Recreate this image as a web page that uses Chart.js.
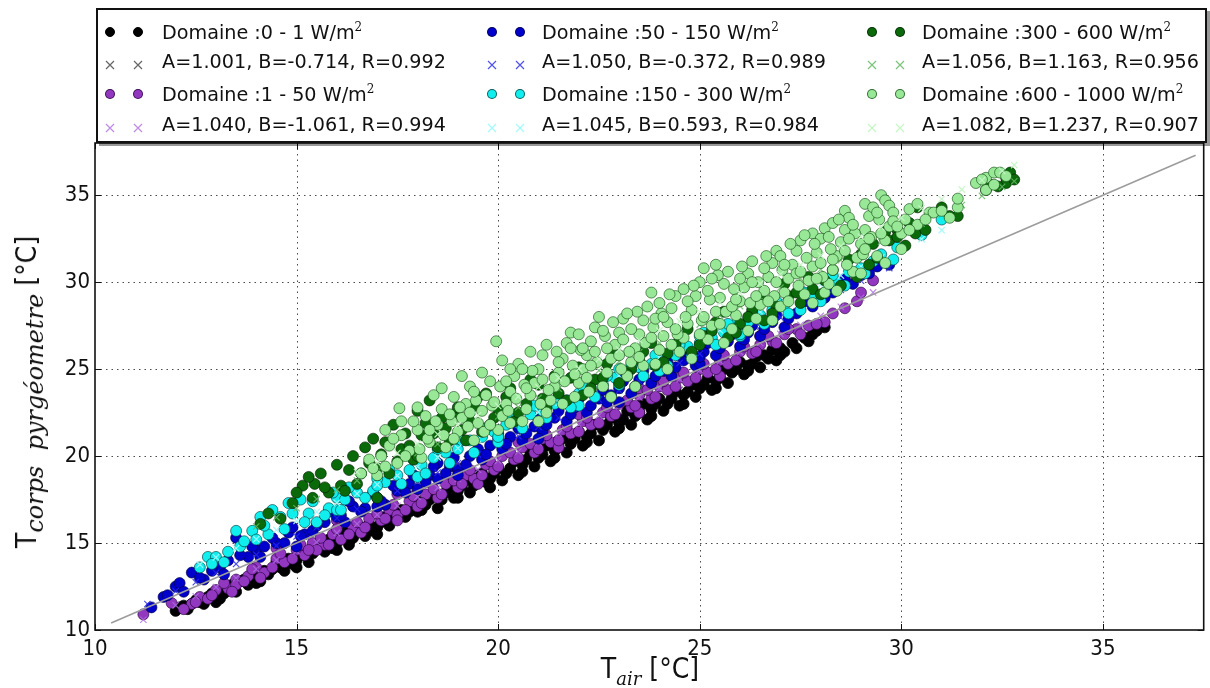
<!DOCTYPE html>
<html>
<head>
<meta charset="utf-8">
<title>T corps vs T air</title>
<script src="https://cdn.jsdelivr.net/npm/chart.js@4.4.1/dist/chart.umd.min.js"></script>
<style>
  html, body { margin:0; padding:0; background:#fff; }
  #wrap { position:relative; width:1210px; height:688px; overflow:hidden; background:#fff; }
  #c { position:absolute; left:0; top:0; }
  #legendBox { position:absolute; left:96px; top:8px; width:1111px; height:135px; box-sizing:border-box; border:2px solid #111; box-shadow:3px 3px 0 rgba(0,0,0,0.4); background:#fff; }
  .lgText { position:absolute; font-family:"DejaVu Sans", sans-serif; font-size:19.2px; line-height:24px; color:#111; white-space:nowrap; }
  .sup2 { font-family:"DejaVu Serif", serif; font-size:12px; vertical-align:8px; line-height:0; }
  .lgDot { position:absolute; width:10px; height:10px; border-radius:50%; box-sizing:border-box; border:1px solid rgba(0,0,0,0.7); }
  .lgX { position:absolute; }
  .axTitle { position:absolute; white-space:nowrap; color:#111; line-height:30px; }
  .axTitle sub { font-family:"DejaVu Serif", serif; font-style:italic; line-height:0; }
</style>
</head>
<body>
<div id="wrap">
  <canvas id="c" width="1210" height="688"></canvas>
  <div id="legendBox"></div>
  <div id="xt" class="axTitle">T<sub>air</sub> [°C]</div>
  <div id="yt" class="axTitle">T<sub>corps&nbsp;&nbsp;pyrgéometre</sub> [°C]</div>
</div>
<script>
// ---------------- DATA ----------------
const domains = ['0 - 1', '1 - 50', '50 - 150', '150 - 300', '300 - 600', '600 - 1000'];
const fitA = [1.001, 1.040, 1.050, 1.045, 1.056, 1.082];
const fitB = [-0.714, -1.061, -0.372, 0.593, 1.163, 1.237];
const fitR = [0.992, 0.994, 0.989, 0.984, 0.956, 0.907];
const xTicks = [10, 15, 20, 25, 30, 35];
const yTicks = [10, 15, 20, 25, 30, 35];
const xRange = [10, 37.5];
const yRange = [10, 38];
const diagonal = [[10.4, 10.4], [37.3, 37.3]];

const blackPts = [[12.0,11.1],[12.2,11.4],[12.4,11.5],[12.6,11.6],[12.8,11.9],[13.0,12.0],[13.2,12.1],[13.4,12.6],[13.6,12.8],[13.8,12.6],[14.0,13.0],[14.2,13.4],[14.4,13.5],[14.6,13.6],[14.8,14.1],[15.0,14.0],[15.2,14.5],[15.4,14.4],[15.6,14.8],[15.8,15.2],[16.0,15.0],[16.2,15.6],[16.4,15.3],[16.6,15.9],[16.8,16.1],[17.0,15.9],[17.2,16.5],[17.4,16.4],[17.6,16.9],[17.8,16.8],[18.0,17.4],[18.2,17.2],[18.4,17.8],[18.6,17.5],[18.8,18.2],[19.0,18.0],[19.2,18.6],[19.4,18.3],[19.6,19.0],[19.8,18.7],[20.0,19.3],[20.2,19.0],[20.4,19.7],[20.6,19.5],[20.8,20.2],[21.0,19.9],[21.2,20.6],[21.4,20.3],[21.6,21.0],[21.8,20.7],[22.0,21.4],[22.2,21.1],[22.4,21.8],[22.6,21.5],[22.8,22.2],[23.0,21.9],[23.2,22.6],[23.4,22.3],[23.6,23.0],[23.8,22.7],[24.0,23.3],[24.2,23.0],[24.4,23.7],[24.6,23.5],[24.8,24.1],[25.0,23.9],[25.2,24.5],[25.4,24.3],[25.6,25.0],[25.8,24.8],[26.0,25.4],[26.2,25.2],[26.4,25.7],[26.6,25.8],[26.8,26.1],[27.0,26.2],[27.3,26.5],[27.6,26.8],[27.9,27.2],[28.1,27.4],[13.0,11.6],[14.0,12.7],[15.0,13.6],[16.0,14.6],[17.0,15.5],[18.0,16.8],[19.0,17.6],[19.8,18.2],[20.6,19.1],[21.4,19.9],[22.2,20.8],[23.0,21.6],[23.8,22.3],[24.6,23.0],[25.4,23.9],[26.2,24.9],[27.0,25.8],[15.5,14.9],[17.5,16.8],[19.5,18.9],[21.5,20.9],[23.5,22.9],[25.5,24.9],
[12.1,11.3],[12.3,11.2],[12.5,11.7],[12.7,11.5],[12.9,12.1],[13.1,11.8],[13.3,12.4],[13.5,12.2],[13.7,12.9],[13.9,13.1],[14.1,12.8],[14.3,13.2],[14.5,13.9],[14.7,13.4],[14.9,13.8],[15.1,14.3],[15.3,13.9],[15.7,14.5],[15.9,14.7],[16.1,15.3],[16.3,14.9],[16.5,15.6],[16.7,15.4],[16.9,15.7],[17.1,16.2],[17.3,16.0],[17.7,16.5],[17.9,17.1],[18.1,16.9],[18.3,17.5],[18.5,17.0],[18.7,17.9],[18.9,17.6],[19.1,18.3],[19.3,17.9],[19.7,18.5],[19.9,19.0],[20.1,18.6],[20.3,19.3],[20.5,18.9],[20.7,19.8],[20.9,19.4],[21.1,20.1],[21.3,19.7],[21.5,20.5],[21.7,20.2],[21.9,21.0],[22.1,20.6],[22.3,21.3],[22.5,20.9],[22.7,21.8],[22.9,21.4],[23.1,22.1],[23.3,21.8],[23.5,22.5],[23.7,22.1],[23.9,23.0],[24.1,22.6],[24.3,23.3],[24.5,22.9],[24.7,23.7],[24.9,23.4],[25.1,24.1],[25.3,23.8],[25.5,24.5],[25.7,24.2],[25.9,25.0],[26.1,24.7],[26.3,25.3],[26.5,25.1],[26.7,25.6],[26.9,25.5],[27.1,26.0],[27.4,26.2],[27.7,26.6],[27.8,27.0]];

const purplePts = [[11.2,10.9],[11.9,11.55],[12.4,11.5],[12.6,11.9],[12.8,11.8],[13.0,12.3],[13.3,12.4],[13.5,12.9],[13.8,13.1],[14.0,13.6],[14.2,13.3],[14.5,14.1],[14.7,13.9],[15.0,14.6],[15.2,14.3],[15.4,15.0],[15.7,14.9],[15.9,15.5],[16.1,15.2],[16.4,15.9],[16.6,15.6],[16.8,16.4],[17.1,16.3],[17.3,16.9],[17.5,16.6],[17.8,17.4],[18.0,17.1],[18.2,17.8],[18.5,17.6],[18.7,18.4],[19.0,18.2],[19.2,18.9],[19.4,18.7],[19.7,19.5],[19.9,19.2],[20.1,20.0],[20.4,19.8],[20.6,20.5],[20.9,20.2],[21.1,21.0],[21.3,20.8],[21.6,21.5],[21.8,21.3],[22.1,22.0],[22.3,21.8],[22.6,22.5],[22.8,22.3],[23.0,23.0],[23.3,22.8],[23.5,23.5],[23.8,23.3],[24.0,24.0],[24.2,23.8],[24.5,24.5],[24.7,24.3],[25.0,25.0],[25.2,24.8],[25.5,25.5],[25.7,25.3],[26.0,26.0],[26.3,25.9],[26.5,26.4],[26.8,26.6],[27.1,27.0],[27.4,27.3],[27.7,27.5],[28.1,27.7],[28.3,28.2],[28.6,28.5],[28.9,28.9],[29.0,29.4],[29.3,30.1],[14.5,14.7],[16.0,16.3],[17.5,17.8],[19.0,19.3],[20.5,20.8],[22.0,22.4],[23.5,23.9],[25.0,25.4],[26.5,26.9],[13.5,12.6],[15.5,14.6],[17.5,16.3],[19.5,18.4],[21.5,20.5],[23.5,22.5],[25.5,24.6],
[12.2,11.2],[12.5,11.6],[12.9,12.0],[13.2,12.7],[13.4,12.2],[13.7,12.8],[13.9,13.5],[14.1,13.0],[14.4,13.6],[14.6,14.4],[14.9,14.1],[15.1,14.9],[15.3,14.6],[15.6,15.3],[15.8,14.9],[16.0,15.8],[16.3,15.5],[16.5,16.2],[16.7,15.9],[17.0,16.7],[17.2,16.4],[17.4,17.2],[17.7,16.9],[17.9,17.7],[18.1,17.3],[18.4,18.1],[18.6,17.8],[18.9,18.6],[19.1,18.4],[19.3,19.2],[19.6,18.9],[19.8,19.7],[20.0,19.4],[20.3,20.2],[20.5,19.9],[20.8,20.7],[21.0,20.4],[21.2,21.2],[21.5,20.9],[21.7,21.7],[22.0,21.4],[22.2,22.2],[22.5,21.9],[22.7,22.8],[22.9,22.4],[23.2,23.2],[23.4,22.9],[23.7,23.8],[23.9,23.4],[24.1,24.3],[24.4,24.0],[24.6,24.8],[24.9,24.5],[25.1,25.3],[25.4,25.0],[25.6,25.8],[25.9,25.5],[26.1,26.3],[26.4,26.0],[26.7,26.9],[26.9,26.5],[27.2,27.3],[27.5,27.0],[27.9,27.6]];

const bluePts = [[11.4,11.3],[11.7,11.9],[12.0,12.5],[12.1,12.7],[12.4,13.3],[12.7,12.9],[13.1,13.6],[13.3,14.0],[13.5,15.3],[13.8,14.2],[14.0,14.6],[14.2,14.8],[14.5,15.0],[14.8,15.6],[15.0,14.8],[15.2,15.5],[15.4,15.7],[15.7,16.2],[16.0,16.5],[16.2,16.2],[16.4,17.1],[16.7,17.0],[17.0,17.6],[17.2,17.2],[17.5,18.0],[17.8,18.4],[18.0,18.1],[18.3,18.9],[18.5,18.7],[18.8,19.4],[19.0,19.2],[19.3,20.0],[19.6,19.8],[19.8,20.6],[20.1,20.4],[20.3,21.1],[20.6,20.9],[20.9,21.7],[21.1,21.4],[21.4,22.2],[21.7,22.0],[21.9,22.8],[22.2,22.5],[22.5,23.3],[22.7,23.1],[23.0,23.9],[23.3,23.6],[23.5,24.4],[23.8,24.2],[24.1,24.9],[24.3,24.6],[24.6,25.5],[24.9,25.2],[25.1,26.0],[25.4,25.8],[25.7,26.6],[26.0,26.3],[26.2,27.1],[26.5,26.9],[26.8,27.7],[27.1,27.4],[27.4,28.2],[27.5,29.5],[27.8,28.6],[28.1,29.1],[28.4,29.7],[28.8,29.9],[29.2,30.5],[29.7,31.0],[18.5,19.6],[20.0,21.3],[21.5,22.9],[23.0,24.4],[24.5,25.9],[26.0,27.4],[17.0,17.1],[19.0,18.9],[21.0,21.0],[23.0,23.1],[25.0,25.3],
[11.8,12.0],[12.2,12.2],[12.6,13.0],[12.9,13.4],[13.2,13.2],[13.6,14.3],[13.9,14.8],[14.1,14.2],[14.4,15.3],[14.7,15.0],[14.9,15.9],[15.1,15.4],[15.5,16.0],[15.8,16.8],[16.1,16.6],[16.3,17.4],[16.6,16.8],[16.9,17.9],[17.1,17.4],[17.4,18.3],[17.7,17.9],[17.9,18.9],[18.2,18.5],[18.4,19.4],[18.7,19.0],[18.9,19.9],[19.2,19.5],[19.5,20.4],[19.7,20.1],[20.0,21.0],[20.2,20.7],[20.5,21.6],[20.7,21.3],[21.0,22.1],[21.2,21.8],[21.5,22.6],[21.8,22.4],[22.0,23.3],[22.3,22.9],[22.6,23.8],[22.8,23.5],[23.1,24.3],[23.4,24.0],[23.6,24.9],[23.9,24.6],[24.2,25.4],[24.4,25.1],[24.7,26.0],[25.0,25.7],[25.2,26.5],[25.5,26.2],[25.8,27.0],[26.1,26.7],[26.3,27.5],[26.6,27.3],[26.9,28.1],[27.2,27.9],[27.6,28.9],[27.9,29.2],[28.3,29.4],[28.6,30.2],[29.0,30.4],[29.4,30.9]];

const cyanPts = [[12.6,13.6],[12.8,14.2],[13.0,14.2],[13.2,13.9],[13.5,15.7],[13.6,14.8],[13.9,15.7],[14.1,16.5],[14.3,15.5],[14.6,16.5],[14.8,17.3],[15.1,17.5],[15.3,16.7],[15.5,16.2],[15.8,17.0],[16.0,17.6],[16.2,17.5],[16.5,17.9],[16.9,18.0],[17.2,18.5],[17.5,18.9],[17.8,19.2],[18.1,19.5],[18.4,19.9],[18.7,20.2],[19.0,20.4],[19.3,20.9],[19.6,21.1],[19.9,21.4],[20.2,21.8],[20.5,21.9],[20.8,22.4],[21.1,22.6],[21.4,23.0],[21.7,23.2],[22.0,23.6],[22.3,23.7],[22.6,24.1],[22.9,24.5],[23.2,24.6],[23.5,25.1],[23.8,25.3],[24.1,25.6],[24.4,25.8],[24.7,26.3],[25.0,26.5],[25.3,26.8],[25.6,27.1],[25.9,27.6],[26.2,27.7],[26.5,28.1],[26.8,28.4],[27.1,28.7],[27.5,28.4],[27.8,29.3],[28.1,29.4],[28.4,30.0],[28.7,30.6],[29.0,30.8],[29.3,31.2],[29.8,31.3],[29.9,32.0],[30.5,32.7],[31.0,33.6],[16.0,16.9],[18.0,18.8],[20.0,20.8],[22.0,22.9],[24.0,24.9],[26.0,26.9],[17.0,18.7],[19.0,21.0],[21.0,22.9],[23.0,25.0],[25.0,26.9],
[12.9,13.8],[13.3,14.5],[13.7,15.1],[14.0,15.2],[14.2,16.0],[14.4,16.9],[14.7,15.8],[14.9,16.7],[15.2,16.2],[15.4,17.4],[15.7,16.6],[15.9,17.9],[16.1,16.9],[16.3,18.2],[16.7,17.6],[17.0,18.3],[17.3,19.2],[17.6,18.4],[17.9,19.8],[18.2,19.0],[18.5,20.4],[18.8,19.6],[19.1,20.9],[19.4,20.2],[19.7,21.6],[20.0,21.1],[20.3,22.3],[20.6,21.6],[20.9,22.9],[21.2,22.2],[21.5,23.4],[21.8,22.8],[22.1,24.0],[22.4,23.4],[22.7,24.6],[23.0,24.1],[23.3,25.2],[23.6,24.6],[23.9,25.8],[24.2,25.2],[24.5,26.4],[24.8,25.8],[25.1,27.1],[25.4,26.4],[25.7,27.6],[26.0,27.0],[26.3,28.2],[26.6,27.6],[26.9,28.9],[27.2,28.2],[27.6,29.4],[28.0,28.9],[28.3,30.4],[28.6,29.8],[29.1,30.5],[29.5,31.6]];

const dgreenPts = [[14.1,16.1],[14.3,16.7],[14.6,16.4],[14.9,17.3],[15.15,18.3],[15.4,17.6],[15.45,18.4],[15.6,19.0],[15.8,17.9],[16.1,18.3],[16.3,19.2],[16.5,18.4],[16.8,19.6],[16.9,21.0],[17.0,17.6],[17.1,20.1],[17.3,19.0],[17.4,21.8],[17.6,20.4],[17.9,19.8],[18.0,22.6],[18.1,21.2],[18.3,23.2],[18.5,20.5],[18.8,20.9],[18.9,22.4],[19.1,21.5],[19.4,22.9],[19.6,21.4],[19.7,23.6],[19.9,22.2],[20.2,23.4],[20.4,22.0],[20.7,23.0],[21.0,24.1],[21.2,22.8],[21.5,23.6],[21.8,24.5],[22.1,23.5],[22.4,24.4],[22.7,25.3],[23.0,24.2],[23.3,25.0],[23.6,26.0],[23.9,25.2],[24.2,25.9],[24.5,26.8],[24.8,26.0],[25.1,26.9],[25.4,27.7],[25.7,26.8],[26.0,27.6],[26.3,28.4],[26.6,27.8],[26.9,28.6],[27.2,29.2],[27.5,28.8],[27.8,29.6],[28.1,30.1],[28.5,29.8],[28.9,30.3],[29.2,31.0],[29.4,31.4],[29.7,32.4],[29.9,33.0],[30.1,32.1],[30.35,32.8],[30.4,34.3],[30.5,33.3],[31.0,34.3],[31.2,33.8],[31.4,33.8],[32.1,35.3],[32.6,36.0],[32.6,35.7],[32.7,36.3],[32.8,35.9],
[15.0,17.9],[15.3,18.8],[15.7,18.2],[16.0,19.5],[16.2,18.0],[16.4,20.0],[16.6,19.0],[16.7,20.5],[17.0,19.3],[17.2,20.8],[17.5,19.7],[17.7,21.3],[17.8,20.6],[18.0,20.0],[18.2,21.9],[18.4,21.3],[18.6,22.2],[18.7,21.6],[19.0,22.8],[19.2,20.9],[19.3,22.0],[19.5,23.4],[19.8,21.8],[20.0,22.7],[20.3,23.9],[20.5,22.5],[20.8,24.4],[21.1,23.3],[21.4,24.6],[21.7,23.2],[22.0,25.1],[22.3,23.9],[22.6,24.5],[22.9,25.8],[23.2,24.7],[23.5,25.5],[23.8,26.5],[24.1,25.4],[24.4,26.4],[24.7,27.3],[25.0,26.4],[25.3,27.2],[25.6,28.3],[25.9,27.1],[26.2,28.0],[26.5,29.1],[26.8,28.2],[27.1,29.9],[27.4,29.4],[27.7,30.3],[28.0,29.3],[28.3,30.7],[28.7,31.3],[29.0,31.6],[29.3,32.2],[29.6,32.9],[29.9,32.6],[30.2,33.4],[30.6,33.0],[32.2,35.6],[32.4,35.5]];

const lgreenPts = [[16.6,19.0],[16.8,19.8],[17.0,18.9],[17.1,20.0],[17.3,20.6],[17.5,19.6],[17.55,22.75],[17.6,21.2],[17.8,20.3],[18.0,21.5],[18.1,19.9],[18.2,22.3],[18.3,20.8],[18.4,23.5],[18.5,21.8],[18.6,22.7],[18.7,20.5],[18.9,23.4],[19.0,21.4],[19.1,22.2],[19.2,23.0],[19.3,24.0],[19.4,20.9],[19.5,21.9],[19.6,22.6],[19.7,23.5],[19.8,24.3],[19.95,26.6],[20.0,21.5],[20.1,22.3],[20.2,23.0],[20.3,23.7],[20.4,24.6],[20.5,25.3],[20.6,22.0],[20.7,22.7],[20.8,23.5],[20.9,24.2],[21.0,25.0],[21.1,25.8],[21.2,22.5],[21.3,23.2],[21.4,24.0],[21.5,24.8],[21.6,25.6],[21.7,26.5],[21.8,27.1],[21.9,23.4],[22.0,24.2],[22.1,25.0],[22.2,25.8],[22.3,26.6],[22.4,27.4],[22.5,28.0],[22.6,24.0],[22.7,24.8],[22.8,25.6],[22.9,26.4],[23.0,27.1],[23.1,27.9],[23.2,24.6],[23.3,25.4],[23.4,26.2],[23.5,27.0],[23.6,27.8],[23.7,28.6],[23.8,29.4],[23.9,25.3],[24.0,26.1],[24.1,26.9],[24.2,27.7],[24.3,28.5],[24.4,29.2],[24.5,26.0],[24.6,26.8],[24.7,27.6],[24.8,28.4],[24.9,29.2],[25.0,30.0],[25.1,30.8],[25.2,26.7],[25.3,27.5],[25.4,28.3],[25.5,29.1],[25.6,29.9],[25.7,30.6],[25.8,27.3],[25.9,28.1],[26.0,28.9],[26.1,29.7],[26.2,30.5],[26.3,31.2],[26.4,27.9],[26.5,28.7],[26.6,29.5],[26.7,30.3],[26.8,31.1],[26.9,31.8],[27.0,28.6],[27.1,29.4],[27.2,30.2],[27.3,31.0],[27.4,31.8],[27.5,32.4],[27.6,29.3],[27.7,30.1],[27.8,30.9],[27.8,32.8],[27.9,31.7],[28.0,32.5],[28.1,33.1],[28.1,29.4],[28.2,29.9],[28.3,30.7],[28.3,33.4],[28.4,31.5],[28.5,32.3],[28.6,33.0],[28.6,34.1],[28.7,33.7],[28.8,30.6],[28.9,31.4],[29.0,32.2],[29.1,33.0],[29.1,34.5],[29.2,33.8],[29.3,34.3],[29.5,35.0],[29.6,34.7],[29.7,34.4],[29.4,31.5],[29.6,32.4],[29.7,33.2],[29.8,34.0],[30.0,32.8],[30.1,33.6],[30.2,34.2],[30.4,33.3],[30.7,34.0],[30.8,34.0],[31.4,34.3],[31.4,34.8],[31.85,35.7],[32.1,35.3],[32.1,36.0],[32.3,36.3],[32.45,36.3],[16.9,19.3],[17.2,19.4],[17.4,21.0],[17.7,20.0],[17.9,22.0],[18.05,20.4],[18.25,21.0],[18.45,22.0],[18.65,21.2],[18.85,22.0],[19.05,22.8],[19.25,21.7],[19.45,23.2],[19.65,21.4],[19.85,22.9],[20.05,24.0],[20.25,22.6],[20.45,23.3],[20.65,24.1],[20.85,24.9],[21.05,23.0],[21.25,23.8],[21.45,26.0],[21.65,24.3],[21.85,25.2],[22.05,26.1],[22.25,23.7],[22.45,25.4],[22.65,26.9],[22.85,27.7],[23.05,25.0],[23.25,26.0],[23.45,28.3],[23.65,26.5],[23.85,27.4],[24.05,28.2],[24.25,29.3],[24.45,27.0],[24.65,28.0],[24.85,29.8],[25.05,27.8],[25.25,29.0],[25.45,30.4],[25.65,28.3],[25.85,29.6],[26.05,30.9],[26.25,28.8],[26.45,30.0],[26.65,31.5],[26.85,29.2],[27.05,30.7],[27.25,32.2],[27.45,29.8],[27.65,31.4],[27.85,32.2],[28.05,30.3],[28.25,31.9],[28.45,33.6],[28.65,31.0],[28.85,32.8],[29.05,31.6],[29.25,32.6],[29.45,33.6],
[17.2,21.5],[17.6,22.0],[18.0,22.8],[18.3,21.5],[18.6,23.9],[18.9,21.0],[19.1,24.6],[19.4,23.7],[19.6,24.8],[19.9,23.1],[20.1,25.5],[20.3,21.9],[20.6,25.0],[20.8,26.0],[21.0,22.0],[21.2,26.4],[21.4,24.5],[21.6,23.0],[21.8,26.2],[22.0,27.0],[22.2,24.5],[22.4,26.0],[22.6,27.2],[22.8,23.4],[23.0,25.8],[23.2,28.2],[23.4,24.0],[23.6,25.2],[23.8,26.8],[24.0,28.8],[24.2,25.0],[24.4,27.3],[24.6,29.6],[24.8,25.6],[25.0,27.0],[25.2,29.5],[25.4,31.0],[25.6,26.5],[25.8,28.6],[26.0,30.2],[26.2,27.2],[26.4,29.2],[26.6,30.8],[26.8,27.8],[27.0,31.5],[27.2,28.9],[27.4,30.5],[27.6,32.7],[27.8,28.8],[28.0,31.1],[28.2,32.6],[28.4,29.5],[28.6,31.8],[28.8,33.3],[29.0,30.5],[29.2,32.5],[29.4,34.0],[29.6,31.1],[29.8,33.5],[30.0,31.9],[30.2,33.0],[30.4,34.5],[30.6,33.6],[31.0,34.1],[31.2,33.7],[32.0,35.9],[32.3,35.6],[32.6,36.1],
[19.3,22.5],[19.8,21.8],[20.2,24.3],[20.7,23.9],[21.1,24.4],[21.5,25.4],[21.9,24.7],[22.3,25.2],[22.7,26.2],[23.1,26.7],[23.5,25.7],[23.9,27.9],[24.3,26.4],[24.7,28.9],[25.1,28.0],[25.5,27.6],[25.9,29.0],[26.3,30.0],[26.7,28.9],[27.1,31.0],[27.5,30.6],[27.9,30.2],[28.3,31.3],[28.7,32.5],[29.1,31.9],[29.5,32.8],[29.9,33.2],[24.1,28.0],[22.1,26.2],[20.3,25.0],[18.8,22.4],[26.9,30.0],[25.3,30.2],[23.3,27.3]];

const blackFit = [[12,11.30],[12.5,11.80],[13,12.30],[13.5,12.80],[14,13.30],[14.5,13.80],[15,14.30],[15.5,14.80],[16,15.30],[16.5,15.80],[17,16.30],[17.5,16.80],[18,17.30],[18.5,17.80],[19,18.31],[19.5,18.81],[20,19.31],[20.5,19.81],[21,20.31],[21.5,20.81],[22,21.31],[22.5,21.81],[23,22.31],[23.5,22.81],[24,23.31],[24.5,23.81],[25,24.31],[25.5,24.81],[26,25.31],[26.5,25.81],[27,26.31],[27.5,26.81],[28,27.31]];
const purpleFit = [[11.2,10.59],[12,11.42],[12.5,11.94],[13,12.46],[13.5,12.98],[14,13.50],[14.5,14.02],[15,14.54],[15.5,15.06],[16,15.58],[16.5,16.10],[17,16.62],[17.5,17.14],[18,17.66],[18.5,18.18],[19,18.70],[19.5,19.22],[20,19.74],[20.5,20.26],[21,20.78],[21.5,21.30],[22,21.82],[22.5,22.34],[23,22.86],[23.5,23.38],[24,23.90],[24.5,24.42],[25,24.94],[25.5,25.46],[26,25.98],[26.5,26.50],[27,27.02],[27.5,27.54],[28,28.06],[28.5,28.58],[29,29.10],[29.3,29.41]];
const blueFit = [[11.3,11.49],[12,12.23],[12.5,12.75],[13,13.28],[13.5,13.80],[14,14.33],[14.5,14.85],[15,15.38],[15.5,15.90],[16,16.43],[16.5,16.95],[17,17.48],[17.5,18.00],[18,18.53],[18.5,19.05],[19,19.58],[19.5,20.10],[20,20.63],[20.5,21.15],[21,21.68],[21.5,22.20],[22,22.73],[22.5,23.25],[23,23.78],[23.5,24.30],[24,24.83],[24.5,25.35],[25,25.88],[25.5,26.40],[26,26.93],[26.5,27.45],[27,27.98],[27.5,28.50],[28,29.03],[28.5,29.55],[29,30.08],[29.7,30.81]];
const cyanFit = [[12.6,13.76],[13,14.18],[13.5,14.70],[14,15.22],[14.5,15.75],[15,16.27],[15.5,16.79],[16,17.31],[16.5,17.84],[17,18.36],[17.5,18.88],[18,19.40],[18.5,19.93],[19,20.45],[19.5,20.97],[20,21.49],[20.5,22.02],[21,22.54],[21.5,23.06],[22,23.58],[22.5,24.11],[23,24.63],[23.5,25.15],[24,25.67],[24.5,26.20],[25,26.72],[25.5,27.24],[26,27.76],[26.5,28.29],[27,28.81],[27.5,29.33],[28,29.85],[28.5,30.38],[29,30.90],[29.5,31.42],[30,31.94],[30.5,32.47],[31,32.99]];
const dgreenFit = [[14,15.95],[14.5,16.48],[15,17.00],[15.5,17.53],[16,18.06],[16.5,18.59],[17,19.12],[17.5,19.64],[18,20.17],[18.5,20.70],[19,21.23],[19.5,21.76],[20,22.28],[20.5,22.81],[21,23.34],[21.5,23.87],[22,24.40],[22.5,24.92],[23,25.45],[23.5,25.98],[24,26.51],[24.5,27.04],[25,27.56],[25.5,28.09],[26,28.62],[26.5,29.15],[27,29.68],[27.5,30.20],[28,30.73],[28.5,31.26],[29,31.79],[29.5,32.32],[30,32.84],[30.5,33.37],[31,33.90],[31.5,34.43],[32,34.96],[32.5,35.48],[32.8,35.80]];
const lgreenFit = [[16.5,19.09],[17,19.63],[17.5,20.17],[18,20.71],[18.5,21.25],[19,21.79],[19.5,22.34],[20,22.88],[20.5,23.42],[21,23.96],[21.5,24.50],[22,25.04],[22.5,25.58],[23,26.12],[23.5,26.66],[24,27.21],[24.5,27.75],[25,28.29],[25.5,28.83],[26,29.37],[26.5,29.91],[27,30.45],[27.5,30.99],[28,31.53],[28.5,32.07],[29,32.61],[29.5,33.16],[30,33.70],[30.5,34.24],[31,34.78],[31.5,35.32],[32,35.86],[32.5,36.40],[32.8,36.73]];

// ---------------- STYLE ----------------
const fillColors = ['#000000', '#9238c0', '#0000cc', '#10eeee', '#0a6a0a', '#98e898'];
const edgeColors = ['#000000', 'rgba(40,0,60,0.8)', 'rgba(0,0,60,0.8)', 'rgba(0,60,60,0.8)', 'rgba(0,30,0,0.8)', 'rgba(20,80,20,0.8)'];
const crossColors = ['rgba(0,0,0,0.6)', 'rgba(175,110,225,0.8)', 'rgba(40,40,235,0.8)', 'rgba(160,250,250,0.95)', 'rgba(100,185,100,0.85)', 'rgba(195,245,195,0.95)'];

function hasFont(name) {
  const c = document.createElement('canvas').getContext('2d');
  const s = 'abcdefghijklmnopqrstuvwxyz0123456789ABCDEF';
  c.font = '32px monospace';
  const a = c.measureText(s).width;
  c.font = '32px "' + name + '", monospace';
  const b = c.measureText(s).width;
  return Math.abs(a - b) > 0.5;
}
let tickFont, tickSize, titleSize, titleScale = 1;
if (hasFont('Liberation Sans Narrow')) { tickFont = 'Liberation Sans Narrow'; tickSize = 25; titleSize = 31; }
else if (hasFont('DejaVu Sans Condensed')) { tickFont = 'DejaVu Sans Condensed'; tickSize = 22; titleSize = 28; }
else { tickFont = 'DejaVu Sans'; tickSize = 20; titleSize = 28; titleScale = 0.8; }

// ---------------- TITLES ----------------
const xt = document.getElementById('xt');
const yt = document.getElementById('yt');
[xt, yt].forEach(el => { el.style.fontFamily = '"' + tickFont + '", sans-serif'; el.style.fontSize = titleSize + 'px'; });
xt.querySelector('sub').style.cssText = 'font-size:18px;vertical-align:-7px;';
yt.querySelector('sub').style.cssText = 'font-size:24px;vertical-align:-7px;';
xt.style.left = '650px'; xt.style.top = '654px';
xt.style.transform = 'translateX(-50%) scaleX(' + titleScale + ')';
yt.style.left = '27px'; yt.style.top = '392px';
yt.style.transform = 'translate(-50%,-50%) rotate(-90deg) scaleX(' + titleScale + ')';

// ---------------- LEGEND ----------------
const wrap = document.getElementById('wrap');
const colX = [[110, 138, 162], [492, 520, 542], [872, 900, 922]];
const rowBase = [39, 68, 101, 131];
function crossSvg(color, cx, cy) {
  const d = document.createElement('div');
  d.className = 'lgX';
  d.style.left = (cx - 5) + 'px'; d.style.top = (cy - 5) + 'px';
  d.innerHTML = '<svg width="10" height="10"><path d="M1 1L9 9M9 1L1 9" stroke="' + color + '" stroke-width="1.2" fill="none"/></svg>';
  wrap.appendChild(d);
}
function dot(color, edge, cx, cy) {
  const d = document.createElement('div');
  d.className = 'lgDot';
  d.style.left = (cx - 5) + 'px'; d.style.top = (cy - 5) + 'px';
  d.style.background = color; d.style.borderColor = edge;
  wrap.appendChild(d);
}
function text(html, x, base) {
  const d = document.createElement('div');
  d.className = 'lgText';
  d.style.left = x + 'px'; d.style.top = (base - 18.5) + 'px';
  d.innerHTML = html;
  wrap.appendChild(d);
}
domains.forEach((dom, i) => {
  const col = colX[Math.floor(i / 2)];
  const r = (i % 2) * 2;
  const cy1 = rowBase[r] - 7, cy2 = rowBase[r + 1] - 7;
  dot(fillColors[i], edgeColors[i], col[0], cy1);
  dot(fillColors[i], edgeColors[i], col[1], cy1);
  text('Domaine :' + dom + ' W/m<span class="sup2">2</span>', col[2], rowBase[r]);
  crossSvg(crossColors[i], col[0], cy2);
  crossSvg(crossColors[i], col[1], cy2);
  text('A=' + fitA[i].toFixed(3) + ', B=' + fitB[i].toFixed(3) + ', R=' + fitR[i].toFixed(3), col[2], rowBase[r + 1]);
});

// ---------------- CHART ----------------
const seriesPts = [blackPts, purplePts, bluePts, cyanPts, dgreenPts, lgreenPts];
const seriesFit = [blackFit, purpleFit, blueFit, cyanFit, dgreenFit, lgreenFit];
const toXY = arr => arr.map(p => ({ x: p[0], y: p[1] }));
const datasets = [];
seriesPts.forEach((pts, i) => {
  datasets.push({
    type: 'scatter', label: 'Domaine :' + domains[i] + ' W/m²', data: toXY(pts),
    backgroundColor: fillColors[i], borderColor: edgeColors[i], borderWidth: 0.8,
    pointRadius: 5.5, pointHoverRadius: 5.5, order: 12 - 2 * i
  });
  datasets.push({
    type: 'scatter', label: 'A=' + fitA[i] + ', B=' + fitB[i] + ', R=' + fitR[i], data: toXY(seriesFit[i]),
    pointStyle: 'crossRot', pointRadius: 4.5, pointHoverRadius: 4.5, borderColor: crossColors[i], borderWidth: 1.2,
    backgroundColor: 'transparent', order: 11 - 2 * i
  });
});
datasets.push({
  type: 'line', label: '1:1', data: toXY(diagonal), borderColor: '#9c9c9c', borderWidth: 1.6,
  pointRadius: 0, fill: false, order: 0
});

const framePlugin = {
  id: 'frame',
  beforeDatasetsDraw(chart) {
    const { ctx, chartArea: a, scales: { x, y } } = chart;
    ctx.save();
    ctx.strokeStyle = 'rgba(0,0,0,0.7)';
    ctx.lineWidth = 1;
    ctx.setLineDash([1.5, 4]);
    xTicks.forEach(v => {
      const px = Math.round(x.getPixelForValue(v)) + 0.5;
      if (px <= a.left + 2 || px >= a.right - 2) return;
      ctx.beginPath(); ctx.moveTo(px, a.top); ctx.lineTo(px, a.bottom); ctx.stroke();
    });
    yTicks.forEach(v => {
      const py = Math.round(y.getPixelForValue(v)) + 0.5;
      if (py <= a.top + 2 || py >= a.bottom - 2) return;
      ctx.beginPath(); ctx.moveTo(a.left, py); ctx.lineTo(a.right, py); ctx.stroke();
    });
    ctx.restore();
  },
  afterDatasetsDraw(chart) {
    const { ctx, chartArea: a, scales: { x, y } } = chart;
    ctx.save();
    ctx.strokeStyle = '#111';
    ctx.lineWidth = 1;
    xTicks.forEach(v => {
      const px = Math.round(x.getPixelForValue(v)) + 0.5;
      ctx.beginPath(); ctx.moveTo(px, a.bottom); ctx.lineTo(px, a.bottom - 6);
      ctx.moveTo(px, a.top); ctx.lineTo(px, a.top + 6); ctx.stroke();
    });
    yTicks.forEach(v => {
      const py = Math.round(y.getPixelForValue(v)) + 0.5;
      ctx.beginPath(); ctx.moveTo(a.left, py); ctx.lineTo(a.left + 6, py);
      ctx.moveTo(a.right, py); ctx.lineTo(a.right - 6, py); ctx.stroke();
    });
    ctx.lineWidth = 1.6;
    ctx.strokeRect(a.left, a.top, a.right - a.left, a.bottom - a.top);
    ctx.restore();
  }
};

Chart.defaults.font.family = '"' + tickFont + '", "DejaVu Sans", sans-serif';
new Chart(document.getElementById('c'), {
  type: 'scatter',
  data: { datasets },
  options: {
    responsive: false,
    devicePixelRatio: 1,
    animation: false,
    events: [],
    layout: { padding: { top: 143, right: 3, left: 0, bottom: 0 } },
    plugins: { legend: { display: false }, tooltip: { enabled: false } },
    scales: {
      x: {
        type: 'linear', min: xRange[0], max: xRange[1],
        grid: { display: false, drawTicks: false },
        border: { display: false },
        ticks: { color: '#111', font: { size: tickSize }, padding: 6, autoSkip: false, maxRotation: 0 },
        afterBuildTicks: s => { s.ticks = xTicks.map(v => ({ value: v })); },
        afterFit: s => { s.height = 58; }
      },
      y: {
        type: 'linear', min: yRange[0], max: yRange[1],
        grid: { display: false, drawTicks: false },
        border: { display: false },
        ticks: { color: '#111', font: { size: tickSize }, padding: 5, autoSkip: false },
        afterBuildTicks: s => { s.ticks = yTicks.map(v => ({ value: v })); },
        afterFit: s => { s.width = 95; }
      }
    }
  },
  plugins: [framePlugin]
});
</script>
</body>
</html>
